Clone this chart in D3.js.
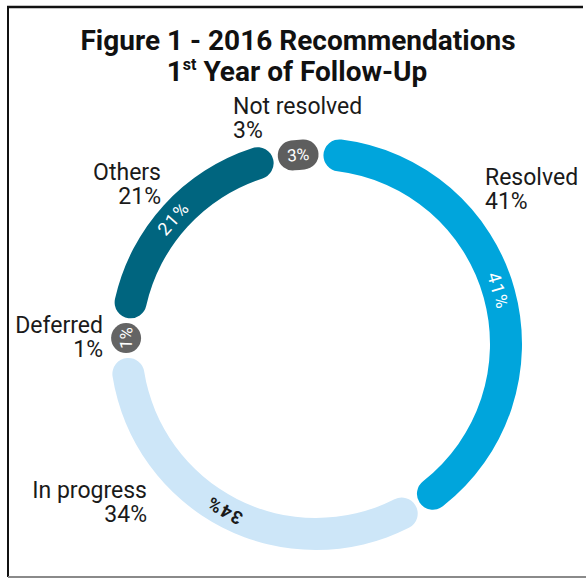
<!DOCTYPE html>
<html>
<head>
<meta charset="utf-8">
<script src="https://cdn.jsdelivr.net/npm/d3@7"></script>
<style>
  body { margin: 0; background: #fff; }
  text { font-family: Roboto, "Noto Sans", sans-serif; }
</style>
</head>
<body>
<div id="chart"></div>
<script>
"use strict";

// data
var categories = ["Resolved", "In progress", "Deferred", "Others", "Not resolved"];
var shares = [41, 34, 1, 21, 3];
var colors = ["#00a5dc", "#cde6f8", "#646464", "#00657f", "#5e5e5e"];
var valueColors = ["#fff", "#1a1a1a", "#fff", "#fff", "#fff"];

var W = 586, H = 578;
var cx = 316, cy = 344;
var rMid = 190, band = 32, pillBand = 30;
var gapPx = 5;

var svg = d3.select("#chart").append("svg")
  .attr("width", W).attr("height", H);

// frame
svg.append("line").attr("x1", 8).attr("y1", 6).attr("x2", 8).attr("y2", 577)
  .attr("stroke", "#111").attr("stroke-width", 2);
svg.append("line").attr("x1", 7).attr("y1", 7).attr("x2", 583).attr("y2", 7)
  .attr("stroke", "#111").attr("stroke-width", 2.5);
svg.append("line").attr("x1", 8).attr("y1", 577).attr("x2", 586).attr("y2", 577)
  .attr("stroke", "#8a8a8a").attr("stroke-width", 2);

// title
svg.append("text")
  .attr("x", 298).attr("y", 50)
  .attr("text-anchor", "middle")
  .attr("font-size", 28).attr("font-weight", 700).attr("fill", "#111")
  .text("Figure 1 - 2016 Recommendations");
var t2 = svg.append("text")
  .attr("x", 297).attr("y", 81)
  .attr("text-anchor", "middle")
  .attr("font-size", 28).attr("font-weight", 700).attr("fill", "#111");
t2.append("tspan").text("1");
t2.append("tspan").attr("font-size", 16).attr("dy", -11).text("st");
t2.append("tspan").attr("dy", 11).text(" Year of Follow-Up");

var pie = d3.pie().sort(null).value(d => d);
var arcsData = pie(shares);

var g = svg.append("g").attr("transform", `translate(${cx},${cy})`);

// small slices become pills with a minimum length
var small = arcsData.map(d => (d.endAngle - d.startAngle) * rMid < band * 2);
var seg = arcsData.map(function(d, i) {
  var mid = (d.startAngle + d.endAngle) / 2;
  if (small[i]) {
    var vis = Math.max(pillBand, (d.endAngle - d.startAngle) * rMid + 5);
    var half = vis / 2 / rMid;
    return { mid: mid, a0: mid - half, a1: mid + half };
  }
  return { mid: mid, a0: d.startAngle, a1: d.endAngle };
});
// trim big segments against their neighbours
var n = seg.length;
seg.forEach(function(s, i) {
  if (small[i]) return;
  var prev = (i - 1 + n) % n, next = (i + 1) % n;
  var gapA = gapPx / rMid;
  var ps = seg[prev], ns = seg[next];
  var prevEnd = small[prev] ? ps.a1 - (prev > i ? 2 * Math.PI : 0) : arcsData[i].startAngle - gapA / 2;
  var nextStart = small[next] ? ns.a0 + (next < i ? 2 * Math.PI : 0) : arcsData[i].endAngle + gapA / 2;
  s.d0 = Math.max(arcsData[i].startAngle, prevEnd) + gapA / 2 + (small[prev] ? gapA / 2 : 0);
  s.d1 = Math.min(arcsData[i].endAngle, nextStart) - gapA / 2 - (small[next] ? gapA / 2 : 0);
});

var arc = d3.arc()
  .innerRadius(rMid - band / 2)
  .outerRadius(rMid + band / 2)
  .cornerRadius(band / 2);

seg.forEach(function(s, i) {
  if (small[i]) {
    var len = (s.a1 - s.a0) * rMid - pillBand;
    if (len < 1) {
      g.append("circle")
        .attr("cx", rMid * Math.sin(s.mid))
        .attr("cy", -rMid * Math.cos(s.mid))
        .attr("r", pillBand / 2)
        .attr("fill", colors[i]);
    } else {
      var h = len / 2 / rMid;
      var p = d3.path();
      p.arc(0, 0, rMid, s.mid - h - Math.PI / 2, s.mid + h - Math.PI / 2);
      g.append("path").attr("d", p.toString())
        .attr("fill", "none")
        .attr("stroke", colors[i])
        .attr("stroke-width", pillBand)
        .attr("stroke-linecap", "round");
    }
  } else {
    g.append("path")
      .attr("d", arc({ startAngle: s.d0, endAngle: s.d1 }))
      .attr("fill", colors[i]);
  }
});

// values on the ring
seg.forEach(function(s, i) {
  var x = rMid * Math.sin(s.mid), y = -rMid * Math.cos(s.mid);
  var deg = s.mid * 180 / Math.PI;
  g.append("text")
    .attr("transform", `translate(${x},${y}) rotate(${deg})`)
    .attr("text-anchor", "middle")
    .attr("dy", "0.35em")
    .attr("font-size", small[i] ? 17 : 18)
    .attr("letter-spacing", small[i] ? 0 : 1.5)
    .attr("font-weight", i === 1 ? 700 : 400)
    .attr("fill", valueColors[i])
    .text(shares[i] + "%");
});

// outside labels
var labelPos = [
  { x: 485, y: 185, anchor: "start" },
  { x: 147, y: 498, anchor: "end" },
  { x: 103, y: 333, anchor: "end" },
  { x: 161, y: 180, anchor: "end" },
  { x: 233, y: 114, anchor: "start" }
];
categories.forEach(function(c, i) {
  var lp = labelPos[i];
  var t = svg.append("text")
    .attr("x", lp.x).attr("y", lp.y)
    .attr("text-anchor", lp.anchor)
    .attr("font-size", 23).attr("fill", "#1a1a1a");
  t.append("tspan").attr("x", lp.x).text(c);
  t.append("tspan").attr("x", lp.x).attr("dy", 24).text(shares[i] + "%");
});
</script>
</body>
</html>
